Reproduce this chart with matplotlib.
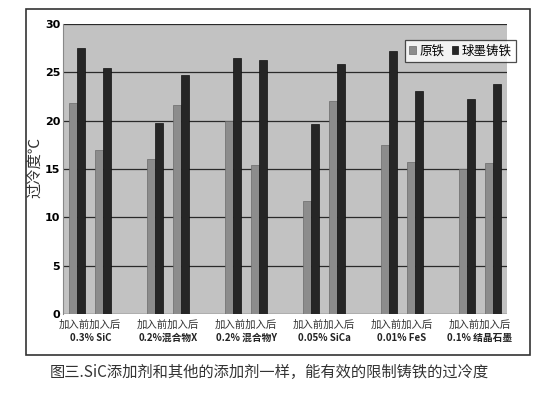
import numpy as np
import matplotlib.pyplot as plt
from matplotlib.patches import Rectangle

plt.rcParams['font.family'] = ['Noto Sans CJK SC', 'DejaVu Sans']

# Data
groups = ['0.3% SiC', '0.2%混合物X', '0.2% 混合物Y', '0.05% SiCa', '0.01% FeS', '0.1% 结晶石墨']
stages = ['加入前', '加入后']
series = ['原铁', '球墨铸铁']
# values per group: [before, after]
raw_iron = [[21.8, 17.0], [16.0, 21.6], [20.0, 15.4], [11.7, 22.0], [17.5, 15.7], [15.0, 15.6]]
ductile_iron = [[27.5, 25.5], [19.8, 24.7], [26.5, 26.3], [19.7, 25.9], [27.2, 23.1], [22.2, 23.8]]

fig = plt.figure(figsize=(5.53, 4.01), dpi=100)
# outer frame of the chart
fig.patches.append(Rectangle((26 / 553, 1 - 355 / 401), 504 / 553, 346 / 401,
                             transform=fig.transFigure, fill=False, edgecolor='#333333', lw=1.2))

ax = fig.add_axes([63 / 553, 1 - 314 / 401, 444 / 553, 290 / 401])
ax.set_facecolor('#c2c2c2')

# category slots: two per group with an empty slot between groups
pos = []
for g in range(len(groups)):
    pos.append([g * 3, g * 3 + 1])
pos = np.array(pos).ravel()
w = 0.31
ax.bar(pos - w / 2, np.array(raw_iron).ravel(), w, color='#8c8c8c', edgecolor='#6a6a6a', lw=0.5,
       label=series[0], zorder=3)
ax.bar(pos + w / 2, np.array(ductile_iron).ravel(), w, color='#262626', edgecolor='#111111', lw=0.5,
       label=series[1], zorder=3)

ax.set_xlim(-0.55, 16.55)
ax.set_ylim(0, 30)
ax.set_yticks(range(0, 31, 5))
ax.set_yticklabels([str(v) for v in range(0, 31, 5)], fontsize=8, fontweight='bold', family='DejaVu Sans')
ax.yaxis.grid(True, color='#2a2a2a', lw=0.9, zorder=1)
ax.set_axisbelow(True)
ax.tick_params(axis='y', length=0, pad=2)
ax.set_xticks([])
for s in ['top', 'right', 'bottom']:
    ax.spines[s].set_visible(False)
ax.spines['left'].set_color('#888888')
fig.text(35 / 553, 1 - 168 / 401, '过冷度℃', rotation=90, ha='center', va='center',
         fontsize=11, color='#333333')

# category labels
for g, name in enumerate(groups):
    ax.text(g * 3 + 0.5, -0.6, ''.join(stages), ha='center', va='top', fontsize=7.5, color='#333333')
    ax.text(g * 3 + 0.5, -2.0, name, ha='center', va='top', fontsize=7, fontweight='bold', color='#222222')

leg = ax.legend(loc='upper left', bbox_to_anchor=((405 - 63) / 444, 1 - 16 / 290), ncol=2, fontsize=9,
                frameon=True, fancybox=False, edgecolor='#222222', handlelength=0.5, handleheight=0.5,
                handletextpad=0.3, columnspacing=0.6, borderpad=0.35, borderaxespad=0)
leg.get_frame().set_linewidth(0.9)
leg.set_zorder(5)

fig.text(50 / 553, 1 - 372 / 401, '图三.SiC添加剂和其他的添加剂一样，能有效的限制铸铁的过冷度',
         ha='left', va='center', fontsize=11, color='#333333')

fig.savefig('out.png', dpi=100)
